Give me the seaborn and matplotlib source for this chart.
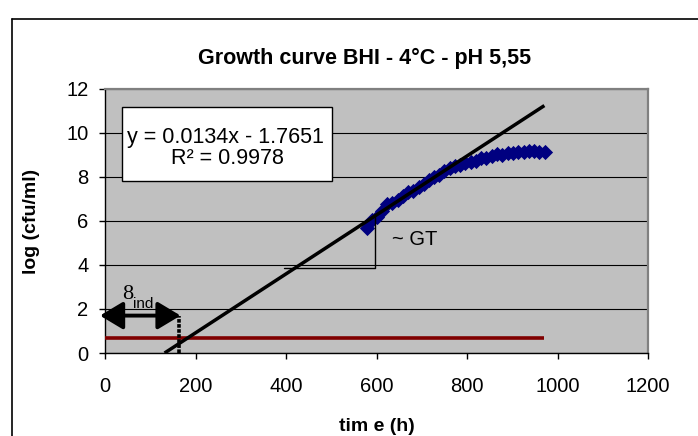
import matplotlib
matplotlib.use("Agg")
import matplotlib.pyplot as plt
import seaborn as sns
import pandas as pd
from matplotlib.lines import Line2D
from matplotlib.patches import Rectangle

# ---- data ----
time_h = [578, 590, 601, 612, 624, 635, 647, 658, 670, 681, 693, 704, 716, 727,
          739, 750, 762, 773, 785, 796, 808, 820, 831, 843, 855, 866, 878, 890,
          901, 913, 925, 937, 948, 960, 972]
log_cfu = [5.70, 6.05, 6.18, 6.45, 6.75, 6.82, 6.95, 7.15, 7.30, 7.35, 7.55, 7.70,
           7.85, 8.00, 8.10, 8.25, 8.40, 8.50, 8.55, 8.62, 8.70, 8.72, 8.85, 8.85,
           8.95, 9.05, 9.00, 9.08, 9.10, 9.15, 9.15, 9.18, 9.18, 9.15, 9.15]
fit_slope = 0.0134
fit_intercept = -1.7651
fit_x = [131.7, 971]
baseline_x = [0, 971]
baseline_y = 0.7
lag_x = [-11, 167]
lag_line_x = 163
lag_y = 1.7
gt_x = [396, 597]
gt_y = 3.85
x_ticks = [0, 200, 400, 600, 800, 1000, 1200]
y_ticks = [0, 2, 4, 6, 8, 10, 12]
title = "Growth curve BHI - 4°C - pH 5,55"
eq_line1 = "y = 0.0134x - 1.7651"
eq_line2 = "R² = 0.9978"

df = pd.DataFrame({"time": time_h, "logcfu": log_cfu})

sns.set_theme(style="white")
plt.rcParams["font.family"] = ["Liberation Sans", "DejaVu Sans"]

W, H = 698, 436
fig = plt.figure(figsize=(W / 100, H / 100), dpi=100)
ax = fig.add_axes([105 / W, 83 / H, 543 / W, 264 / H])
ax.set_facecolor("#C0C0C0")

ax.set_xlim(0, 1200)
ax.set_ylim(0, 12)
ax.set_xticks(x_ticks)
ax.set_yticks(y_ticks)
ax.yaxis.grid(True, color="black", lw=0.8)
ax.set_axisbelow(True)

for s in ["left", "bottom"]:
    ax.spines[s].set_color("black")
    ax.spines[s].set_linewidth(1.0)
for s in ["top", "right"]:
    ax.spines[s].set_color("#808080")
    ax.spines[s].set_linewidth(1.6)

ax.tick_params(axis="both", direction="out", length=4, width=1, color="black",
               labelsize=14.5, labelcolor="black")
ax.tick_params(axis="x", pad=13, bottom=True)
ax.tick_params(axis="y", pad=8, left=True)

# data points
sns.scatterplot(data=df, x="time", y="logcfu", marker="D", s=60, color="#000080",
                edgecolor="#000080", linewidth=0, ax=ax, zorder=3, legend=False)

# fitted line
fit_y = [fit_slope * x + fit_intercept for x in fit_x]
ax.plot(fit_x, fit_y, color="black", lw=2.5, zorder=4, solid_capstyle="butt")

# baseline (initial level)
ax.plot(baseline_x, [baseline_y, baseline_y], color="#800000", lw=2.6, zorder=3,
        solid_capstyle="butt")

# lag vertical dotted line
ax.plot([lag_line_x, lag_line_x], [0, lag_y], color="black", lw=2.6,
        linestyle=(0, (1, 0.4)), zorder=5)
# lag double arrow
ax.annotate("", xy=(lag_x[0], lag_y), xytext=(lag_x[1], lag_y),
            arrowprops=dict(arrowstyle="<|-|>,head_length=0.7,head_width=0.42",
                            lw=2.8, color="black", mutation_scale=20,
                            shrinkA=0, shrinkB=0),
            annotation_clip=False, zorder=6)
ax.text(37, 2.65, "8", fontsize=16, family=["Liberation Serif", "DejaVu Serif"],
        ha="left", va="center", color="black")
ax.text(62, 2.25, "ind", fontsize=11, ha="left", va="center", color="black")

# GT triangle
ax.plot([gt_x[0], gt_x[1], gt_x[1]],
        [gt_y, gt_y, fit_slope * gt_x[1] + fit_intercept],
        color="black", lw=1.0, zorder=3)
ax.text(685, 5.16, "~ GT", fontsize=14.5, ha="center", va="center", color="black")

# equation box
ax.add_patch(Rectangle((0.0313, 0.652), 0.387, 0.28, transform=ax.transAxes,
                       facecolor="white", edgecolor="black", lw=1.0, zorder=6))
ax.text(0.222, 0.797, eq_line1, transform=ax.transAxes, fontsize=15.5,
        ha="center", va="baseline", zorder=7, color="black")
ax.text(0.226, 0.715, eq_line2, transform=ax.transAxes, fontsize=15.5,
        ha="center", va="baseline", zorder=7, color="black")

# axis labels and title
ax.set_xlabel("tim e (h)", fontsize=14, fontweight="bold", color="black")
ax.xaxis.set_label_coords(0.5, -0.28)
ax.xaxis.label.set_verticalalignment("center")
ax.set_ylabel("log (cfu/ml)", fontsize=14, fontweight="bold", color="black")
ax.yaxis.set_label_coords(-0.135, 0.5)
ax.yaxis.label.set_verticalalignment("center")

fig.text(365 / W, 1 - 58 / H, title, fontsize=15.5, fontweight="bold",
         ha="center", va="center", color="black")

# outer chart border (left and top visible)
fig.add_artist(Line2D([12 / W, 12 / W], [0, 1 - 19 / H], color="black", lw=1.2))
fig.add_artist(Line2D([12 / W, 1], [1 - 19 / H, 1 - 19 / H], color="black", lw=1.2))

fig.savefig("out.png", dpi=100)
